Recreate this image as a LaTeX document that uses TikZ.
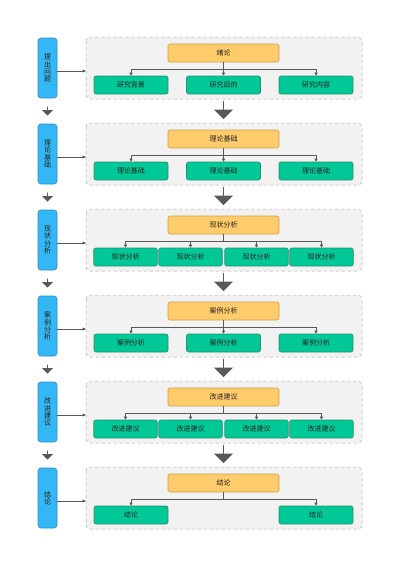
\documentclass[tikz,border=0pt]{standalone}
\usepackage{fontspec}
\setmainfont{Noto Sans CJK SC}
\usetikzlibrary{arrows.meta,shapes.arrows}
\definecolor{bluefill}{HTML}{33B8F5}
\definecolor{blueline}{HTML}{2A8CC8}
\definecolor{yelfill}{HTML}{FFCB6B}
\definecolor{yelline}{HTML}{C9A24E}
\definecolor{grnfill}{HTML}{00C896}
\definecolor{grnline}{HTML}{2F8E6E}
\definecolor{panfill}{HTML}{F2F2F2}
\definecolor{panline}{HTML}{AAAAAA}
\definecolor{arr}{HTML}{595959}
\definecolor{txt}{HTML}{222222}
\newcommand\mysidefont{\fontsize{7}{7.2}\selectfont}
\tikzset{
  x=1pt,y=-1pt,
  panel/.style={draw=panline,fill=panfill,dashed,rounded corners=4pt,line width=0.5pt},
  sidebox/.style={draw=blueline,fill=bluefill,rounded corners=3pt,line width=0.6pt,minimum width=19pt,minimum height=60pt,inner sep=0pt,align=center,text=txt,font=\mysidefont},
  topbox/.style={draw=yelline,fill=yelfill,rounded corners=2pt,line width=0.6pt,minimum width=111pt,minimum height=18pt,inner sep=0pt,text=txt,font=\fontsize{7}{8}\selectfont},
  subbox/.style={draw=grnline,fill=grnfill,rounded corners=2pt,line width=0.6pt,minimum height=18pt,inner sep=0pt,text=txt,font=\fontsize{7}{8}\selectfont},
  conn/.style={draw=arr,line width=0.5pt,-{Triangle[length=3pt,width=3pt]}},
  side/.style={draw=arr,line width=0.5pt,-{Triangle[length=3.5pt,width=3pt]}},
  bigarrow/.style={single arrow,draw=none,fill=arr,minimum height=18pt,minimum width=19pt,single arrow head extend=5pt,inner sep=0pt,shape border rotate=270},
  smallarrow/.style={single arrow,draw=none,fill=arr,minimum height=9pt,minimum width=11pt,single arrow head extend=3pt,inner sep=0pt,shape border rotate=270}
}
\begin{document}
\begin{tikzpicture}
\useasboundingbox (0,0) rectangle (400,566);
\fill[white] (0,0) rectangle (400,566);
\foreach \i/\T/\side/\top in {1/37/提\\出\\问\\题/绪论,2/123/理\\论\\基\\础/理论基础,3/209/现\\状\\分\\析/现状分析,4/295/案\\例\\分\\析/案例分析,5/381/改\\进\\建\\议/改进建议,6/467/结\\论/结论}{
  \draw[panel] (86,\T) rectangle (362,\T+62);
  \node[sidebox] (s\i) at (47.5,\T+31) {\side};
  \node[topbox] (t\i) at (223.5,\T+16) {\top};
  \coordinate (p\i) at (86,\T+34);
  \draw[side] (s\i.east |- p\i) -- (p\i);
  \coordinate (h\i) at (223.5,\T+32);
}
\foreach \i/\T/\a/\b/\c in {1/37/研究背景/研究目的/研究内容,2/123/理论基础/理论基础/理论基础,4/295/案例分析/案例分析/案例分析}{
  \node[subbox,minimum width=74pt] (g\i a) at (131,\T+48) {\a};
  \node[subbox,minimum width=74pt] (g\i b) at (223.5,\T+48) {\b};
  \node[subbox,minimum width=74pt] (g\i c) at (316,\T+48) {\c};
  \draw[arr,line width=0.5pt] (t\i.south) -- (h\i);
  \draw[arr,line width=0.5pt] (g\i a.north |- h\i) -- (g\i c.north |- h\i);
  \draw[conn] (g\i a.north |- h\i) -- (g\i a.north);
  \draw[conn] (h\i) -- (g\i b.north);
  \draw[conn] (g\i c.north |- h\i) -- (g\i c.north);
}
\foreach \i/\T/\a in {3/209/现状分析,5/381/改进建议}{
  \node[subbox,minimum width=63.5pt] (g\i a) at (125.5,\T+48) {\a};
  \node[subbox,minimum width=63.5pt] (g\i b) at (190.5,\T+48) {\a};
  \node[subbox,minimum width=63.5pt] (g\i c) at (256.5,\T+48) {\a};
  \node[subbox,minimum width=63.5pt] (g\i d) at (321.5,\T+48) {\a};
  \draw[arr,line width=0.5pt] (t\i.south) -- (h\i);
  \draw[arr,line width=0.5pt] (g\i a.north |- h\i) -- (g\i d.north |- h\i);
  \foreach \k in {a,b,c,d}{\draw[conn] (g\i\k.north |- h\i) -- (g\i\k.north);}
}
\node[subbox,minimum width=74pt] (g6a) at (131,467+48) {结论};
\node[subbox,minimum width=74pt] (g6c) at (316,467+48) {结论};
\draw[arr,line width=0.5pt] (t6.south) -- (h6);
\draw[arr,line width=0.5pt] (g6a.north |- h6) -- (g6c.north |- h6);
\draw[conn] (g6a.north |- h6) -- (g6a.north);
\draw[conn] (g6c.north |- h6) -- (g6c.north);
\foreach \T [count=\j] in {37,123,209,295,381}{
  \node[bigarrow] (ba\j) at (223.5,\T+73) {};
  \node[smallarrow] (sa\j) at (47.5,\T+74) {};
}
\end{tikzpicture}
\end{document}
